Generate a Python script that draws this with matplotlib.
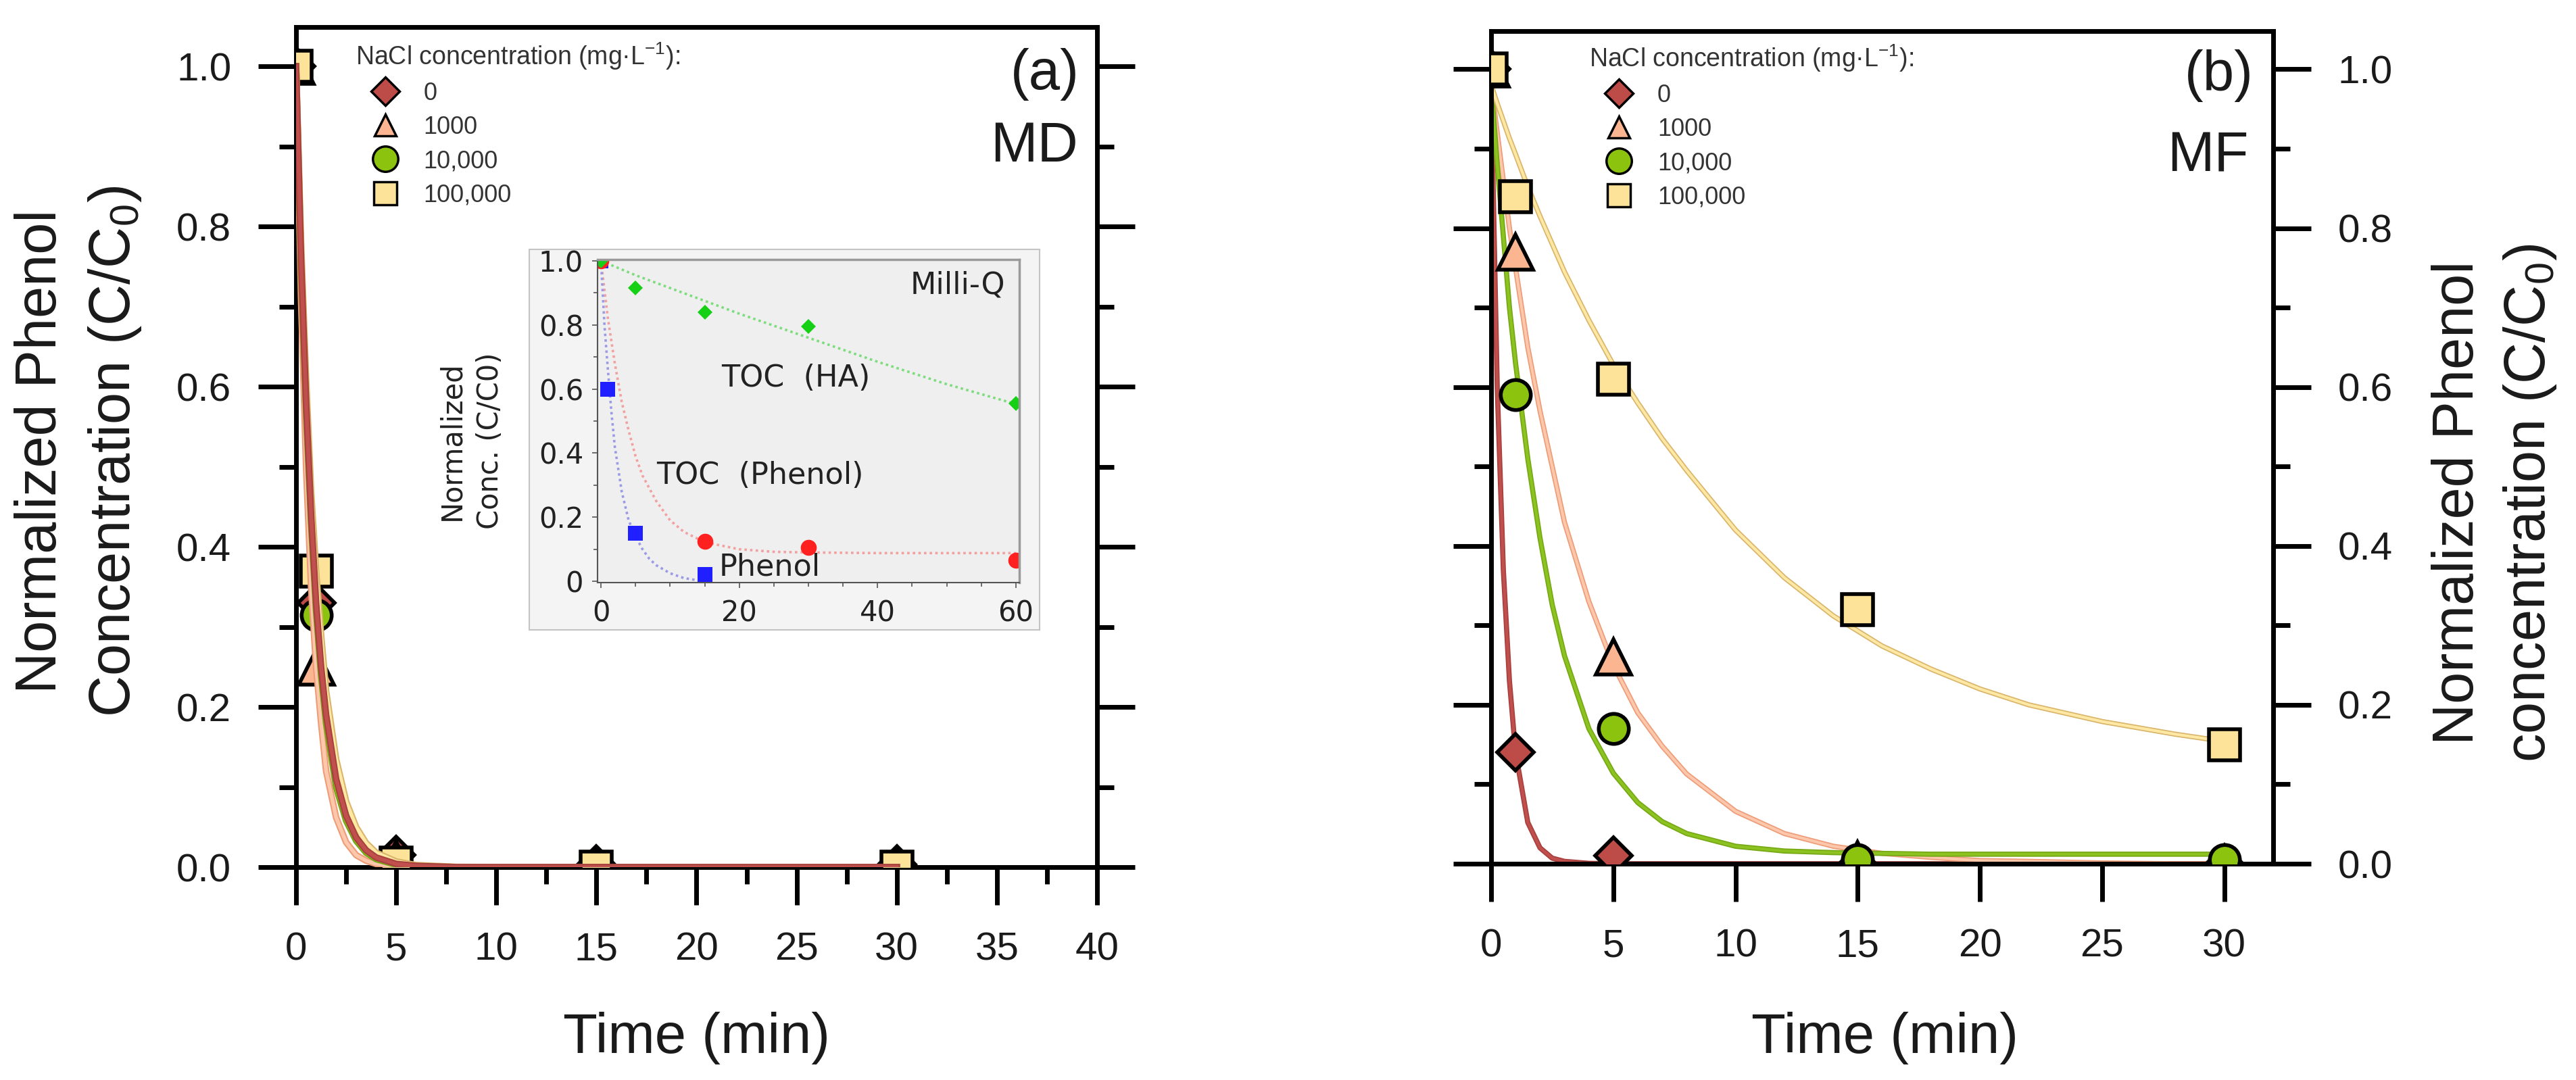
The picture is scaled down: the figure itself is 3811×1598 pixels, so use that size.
import numpy as np
import matplotlib
matplotlib.use("Agg")
import matplotlib.pyplot as plt
from matplotlib.lines import Line2D
from matplotlib.patches import Rectangle
from matplotlib.ticker import MultipleLocator, FormatStrFormatter
import matplotlib.patheffects as pe

plt.rcParams['font.family'] = ['Liberation Sans', 'DejaVu Sans']
plt.rcParams['mathtext.fontset'] = 'custom'
plt.rcParams['mathtext.rm'] = 'Liberation Sans'
plt.rcParams['mathtext.it'] = 'Liberation Sans:italic'
plt.rcParams['mathtext.bf'] = 'Liberation Sans:bold'

# ---- measured points (time in min) ----
t_obs = [0, 1, 5, 15, 30]
nacl_labels = ["0", "1000", "10,000", "100,000"]

# (a) MD
md_0 = [1.0, 0.33, 0.015, 0.003, 0.003]
md_1000 = [1.0, 0.25, 0.010, 0.0, 0.0]
md_10000 = [1.0, 0.315, 0.005, 0.0, 0.0]
md_100000 = [1.0, 0.37, 0.005, 0.0, 0.0]

# (b) MF
mf_0 = [1.0, 0.14, 0.01, 0.0, 0.0]
mf_1000 = [1.0, 0.77, 0.26, 0.005, 0.0]
mf_10000 = [1.0, 0.59, 0.17, 0.005, 0.005]
mf_100000 = [1.0, 0.84, 0.61, 0.32, 0.15]

# ---- fitted curves ----
t_fit_a = [0, 0.25, 0.5, 0.75, 1, 1.25, 1.5, 2, 2.5, 3, 3.5, 4, 5, 6, 8, 10, 15, 20, 25, 30]
fit_a_0 = [1.0, 0.76, 0.58, 0.44, 0.33, 0.25, 0.19, 0.11, 0.064, 0.037, 0.021, 0.012,
           0.004, 0.0015, 0.0, 0.0, 0.0, 0.0, 0.0, 0.0]
fit_a_1000 = [1.0, 0.71, 0.50, 0.35, 0.25, 0.18, 0.12, 0.062, 0.031, 0.015, 0.008, 0.004,
              0.001, 0.0, 0.0, 0.0, 0.0, 0.0, 0.0, 0.0]
fit_a_10000 = [1.0, 0.75, 0.57, 0.43, 0.32, 0.24, 0.18, 0.10, 0.058, 0.033, 0.018, 0.010,
               0.003, 0.001, 0.0, 0.0, 0.0, 0.0, 0.0, 0.0]
fit_a_100000 = [1.0, 0.78, 0.61, 0.47, 0.37, 0.29, 0.22, 0.135, 0.082, 0.05, 0.03, 0.018,
                0.007, 0.0025, 0.0003, 0.0, 0.0, 0.0, 0.0, 0.0]

t_fit_b = [0, 0.25, 0.5, 0.75, 1, 1.5, 2, 2.5, 3, 4, 5, 6, 7, 8, 10, 12, 14, 16, 18, 20,
           22, 25, 28, 30]
fit_b_0 = [0.98, 0.60, 0.37, 0.23, 0.14, 0.052, 0.02, 0.007, 0.003, 0.0005, 0.0, 0.0, 0.0,
           0.0, 0.0, 0.0, 0.0, 0.0, 0.0, 0.0, 0.0, 0.0, 0.0, 0.0]
fit_b_1000 = [0.98, 0.92, 0.86, 0.80, 0.75, 0.65, 0.57, 0.50, 0.43, 0.33, 0.25, 0.19, 0.148,
              0.113, 0.066, 0.038, 0.022, 0.013, 0.008, 0.004, 0.003, 0.001, 0.0, 0.0]
fit_b_10000 = [0.98, 0.88, 0.79, 0.70, 0.63, 0.51, 0.41, 0.326, 0.262, 0.17, 0.114, 0.077,
               0.053, 0.038, 0.022, 0.016, 0.014, 0.013, 0.012, 0.012, 0.012, 0.012, 0.012,
               0.012]
fit_b_100000 = [0.98, 0.957, 0.935, 0.913, 0.893, 0.852, 0.815, 0.78, 0.745, 0.684, 0.628,
                0.58, 0.535, 0.495, 0.42, 0.36, 0.312, 0.274, 0.245, 0.22, 0.2, 0.179, 0.163,
                0.154]

# ---- inset (Milli-Q) ----
t_ha = [0, 5, 15, 30, 60]
toc_ha = [1.0, 0.915, 0.84, 0.795, 0.555]
t_tocph = [0, 15, 30, 60]
toc_phenol = [1.0, 0.125, 0.105, 0.065]
t_ph = [0, 1, 5, 15]
phenol = [1.0, 0.60, 0.15, 0.022]

t_fit_ha = [0, 5, 10, 15, 20, 30, 40, 50, 60]
fit_ha = [1.0, 0.955, 0.915, 0.875, 0.835, 0.76, 0.685, 0.615, 0.553]
t_fit_tocph = [0, 1, 2, 3, 4, 5, 6, 8, 10, 12, 15, 20, 25, 30, 40, 50, 60]
fit_tocph = [1.0, 0.82, 0.68, 0.56, 0.47, 0.39, 0.33, 0.25, 0.19, 0.154, 0.122, 0.10,
             0.092, 0.09, 0.088, 0.088, 0.088]
t_fit_ph = [0, 0.5, 1, 1.5, 2, 3, 4, 5, 6, 7, 8, 10, 12, 14, 15]
fit_ph = [1.0, 0.80, 0.66, 0.53, 0.42, 0.28, 0.19, 0.14, 0.10, 0.07, 0.05, 0.025, 0.01,
          0.003, 0.0]

# ---- styles ----
markers = ['D', '^', 'o', 's']
msizes = [28, 38, 32, 33]
leg_msizes = [21, 23, 27, 24]
face = ['#bd4b48', '#fbb590', '#8cc30f', '#fde39a']
line_col = ['#c0504d', '#fcc7ab', '#8cc320', '#ffe8a3']
edge_col = ['#a8403d', '#ee9c78', '#76a815', '#d9b56b']
txt = '#1a1a1a'

fig = plt.figure(figsize=(38.11, 15.98), dpi=100)
ax_a = fig.add_axes([0.11493, 0.19712, 0.31094, 0.77785])
ax_b = fig.add_axes([0.57885, 0.20025, 0.30360, 0.77096])


def style_main(ax, xmax, ytop):
    ax.set_xlim(0, xmax)
    ax.set_ylim(0, ytop)
    for s in ax.spines.values():
        s.set_linewidth(5)
    ax.xaxis.set_major_locator(MultipleLocator(5))
    ax.yaxis.set_major_locator(MultipleLocator(0.2))
    ax.yaxis.set_minor_locator(MultipleLocator(0.1))
    ax.yaxis.set_major_formatter(FormatStrFormatter('%.1f'))
    ax.tick_params(which='both', direction='out', width=5, top=False, left=True,
                   right=True, colors='black', labelcolor=txt)
    ax.tick_params(which='major', length=40, labelsize=42, pad=29)
    ax.tick_params(which='minor', length=18)


style_main(ax_a, 40, 1.049)
ax_a.xaxis.set_minor_locator(MultipleLocator(2.5))
style_main(ax_b, 32, 1.048)
ax_b.tick_params(labelleft=False, labelright=True)

# panel (a)
md_sets = [md_0, md_1000, md_10000, md_100000]
fit_a = [fit_a_0, fit_a_1000, fit_a_10000, fit_a_100000]
for i in [1, 2, 3, 0]:
    ax_a.plot(t_fit_a, fit_a[i], color=line_col[i], lw=4, zorder=4,
              path_effects=[pe.Stroke(linewidth=7, foreground=edge_col[i]), pe.Normal()])
for i in range(4):
    ax_a.plot(t_obs, md_sets[i], ls='none', marker=markers[i], ms=msizes[i],
              mfc=face[i], mec='black', mew=4, zorder=3)

# panel (b)
mf_sets = [mf_0, mf_1000, mf_10000, mf_100000]
fit_b = [fit_b_0, fit_b_1000, fit_b_10000, fit_b_100000]
for i in range(4):
    ax_b.plot(t_fit_b, fit_b[i], color=line_col[i], lw=3, zorder=2,
              path_effects=[pe.Stroke(linewidth=5.5, foreground=edge_col[i]), pe.Normal()])
for i in range(4):
    ax_b.plot(t_obs, mf_sets[i], ls='none', marker=markers[i], ms=msizes[i],
              mfc=face[i], mec='black', mew=4, zorder=3)

# legends
handles = [Line2D([], [], ls='none', marker=markers[i], ms=leg_msizes[i], mfc=face[i],
                  mec='black', mew=2.5) for i in range(4)]
for ax, lx, ly in [(ax_a, 0.1380, 0.9625), (ax_b, 0.6169, 0.9606)]:
    leg = ax.legend(handles, nacl_labels, title='NaCl concentration (mg·L$^{-1}$):',
                    loc='upper left', bbox_to_anchor=(lx, ly), bbox_transform=fig.transFigure,
                    frameon=False, borderpad=0, borderaxespad=0, fontsize=26,
                    title_fontsize=27, alignment='left', handlelength=2.44,
                    handletextpad=0.35, labelspacing=0.42, labelcolor='#333333')
    leg.get_title().set_color('#333333')

# panel tags
ax_a.text(39.1, 0.99, '(a)', fontsize=60, ha='right', va='center', color=txt)
ax_a.text(39.05, 0.90, 'MD', fontsize=60, ha='right', va='center', color=txt)
ax_b.text(31.2, 0.992, '(b)', fontsize=60, ha='right', va='center', color=txt)
ax_b.text(31.0, 0.89, 'MF', fontsize=60, ha='right', va='center', color=txt)

# axis labels
fig.text(0.2703, 0.0250, 'Time (min)', fontsize=60, ha='center', va='baseline', color=txt)
fig.text(0.7316, 0.0250, 'Time (min)', fontsize=60, ha='center', va='baseline', color=txt)
ylab_kw = dict(fontsize=61, rotation=90, rotation_mode='anchor', ha='center',
               va='baseline', color=txt)
fig.text(0.02178, 0.582, 'Normalized Phenol', **ylab_kw)
fig.text(0.05038, 0.582, 'Concentration (C/C$_0$)', **ylab_kw)
fig.text(0.96012, 0.5344, 'Normalized Phenol', **ylab_kw)
fig.text(0.98793, 0.5344, 'concentration (C/C$_0$)', **ylab_kw)

# inset
fig.add_artist(Rectangle((783 / 3811, 1 - 932 / 1598), (1538 - 783) / 3811, (932 - 369) / 1598,
                         transform=fig.transFigure, facecolor='#f4f4f4', edgecolor='#c4c4c4',
                         lw=1.5, zorder=1))
ax_in = fig.add_axes([0.23196, 0.46058, 0.16374, 0.29912], zorder=2)
ax_in.set_facecolor('#efefef')
ax_in.set_xlim(-0.5, 60.5)
ax_in.set_ylim(-0.004, 1.004)
for side in ['left', 'bottom']:
    ax_in.spines[side].set_color('#555555')
    ax_in.spines[side].set_linewidth(1.5)
for side in ['top', 'right']:
    ax_in.spines[side].set_color('#9a9a9a')
    ax_in.spines[side].set_linewidth(2.5)
ax_in.set_xticks([0, 20, 40, 60])
ax_in.xaxis.set_minor_locator(MultipleLocator(5))
ax_in.set_yticks([0, 0.2, 0.4, 0.6, 0.8, 1.0], ['0', '0.2', '0.4', '0.6', '0.8', '1.0'])
ax_in.yaxis.set_minor_locator(MultipleLocator(0.1))
ax_in.tick_params(which='both', direction='out', color='#555555', width=1.2,
                  labelsize=30, labelcolor='#222222', labelfontfamily='DejaVu Sans')
ax_in.tick_params(which='major', length=6)
ax_in.tick_params(which='minor', length=4)
ax_in.tick_params(axis='x', pad=12)
ax_in.tick_params(axis='y', pad=9)

dot = (0, (1, 1.3))
ax_in.plot(t_fit_ha, fit_ha, color='#7ddc7d', lw=2.6, ls=dot)
ax_in.plot(t_fit_tocph, fit_tocph, color='#f2a0a0', lw=2.6, ls=dot)
ax_in.plot(t_fit_ph, fit_ph, color='#9a9ae6', lw=2.6, ls=dot)
ax_in.plot(t_ph, phenol, ls='none', marker='s', ms=16, color='#1f1fff', mew=0)
ax_in.plot(t_tocph, toc_phenol, ls='none', marker='o', ms=17, color='#ff2020', mew=0)
ax_in.plot(t_ha, toc_ha, ls='none', marker='D', ms=11.5, color='#16d016', mew=0)

ax_in.text(58.5, 0.924, 'Milli-Q', fontsize=32, family='DejaVu Sans', ha='right',
           va='center', color='#222222')
ax_in.text(28.2, 0.633, 'TOC  (HA)', fontsize=32, family='DejaVu Sans', ha='center',
           va='center', color='#222222')
ax_in.text(23.0, 0.331, 'TOC  (Phenol)', fontsize=32, family='DejaVu Sans', ha='center',
           va='center', color='#222222')
ax_in.text(17.1, 0.044, 'Phenol', fontsize=32, family='DejaVu Sans', ha='left',
           va='center', color='#222222')
fig.text(0.1829, 0.5920, 'Normalized\nConc. (C/C0)', fontsize=30, family='DejaVu Sans',
         rotation=90, ha='center', va='center', linespacing=1.45, color='#222222')

fig.savefig('out.png', dpi=100)
